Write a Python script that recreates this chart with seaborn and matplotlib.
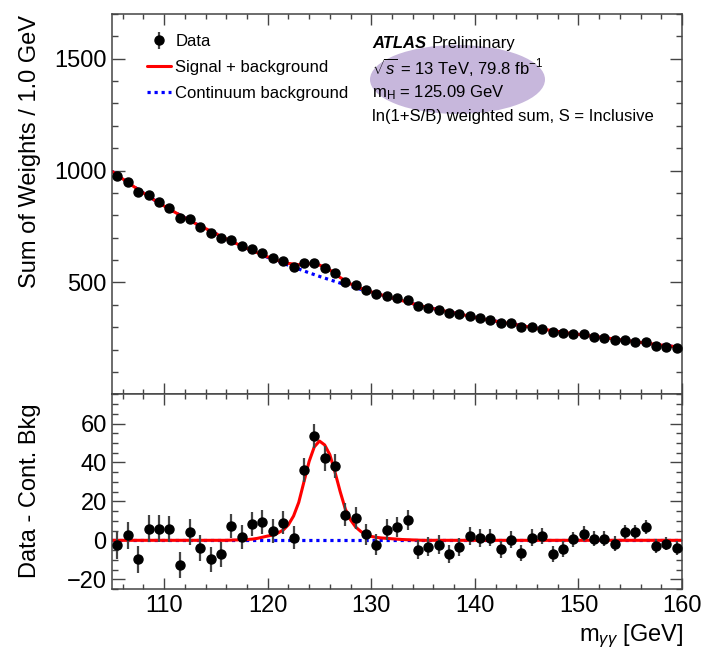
import numpy as np
import matplotlib
matplotlib.use("Agg")
import matplotlib.pyplot as plt
from matplotlib.lines import Line2D
from matplotlib.patches import Ellipse
from matplotlib.ticker import MultipleLocator, FixedLocator
import seaborn as sns

# Data: 1 GeV bins between 105 and 160 GeV
mass = np.arange(105.5, 160.0, 1.0)
data_weights = [977, 950, 906, 891, 861, 834, 789, 782, 747, 720,
                700, 690, 663, 650, 630, 608, 595, 570, 586, 588,
                563, 541, 501, 487, 466, 448, 441, 431, 422, 396,
                384, 377, 362, 358, 351, 340, 332, 317, 317, 300,
                300, 292, 277, 273, 270, 268, 257, 250, 243, 243,
                235, 235, 217, 213, 206]
data_resid = [-2.6, 2.6, -9.8, 6.0, 6.0, 6.0, -12.5, 4.3, -4.0, -9.8,
              -7.2, 7.4, 1.7, 8.6, 9.5, 4.6, 9.1, 1.4, 36.1, 53.6,
              42.1, 38.1, 13.2, 11.5, 3.1, -2.2, 5.5, 6.7, 10.3, -4.8,
              -3.4, -2.2, -6.9, -3.4, 2.2, 1.2, 1.4, -4.6, 0.3, -6.5,
              1.4, 2.4, -7.0, -4.6, 0.5, 3.4, 0.9, 0.9, -1.7, 4.3,
              4.3, 6.9, -2.9, -1.7, -4.0]
data_err = [7.0, 6.9, 6.9, 6.8, 6.8, 6.7, 6.6, 6.6, 6.5, 6.5,
            6.4, 6.3, 6.3, 6.2, 6.2, 6.1, 6.0, 6.0, 6.2, 6.4,
            6.3, 6.2, 5.9, 5.7, 5.5, 5.4, 5.3, 5.2, 5.1, 5.0,
            4.9, 4.8, 4.7, 4.6, 4.6, 4.5, 4.4, 4.4, 4.3, 4.2,
            4.2, 4.1, 4.0, 4.0, 3.9, 3.9, 3.8, 3.8, 3.7, 3.7,
            3.7, 3.6, 3.6, 3.5, 3.5]

# Continuum background fit, read at every GeV
bkg_mass = np.arange(105.0, 160.5, 1.0)
bkg = np.array([996, 963, 931, 900, 870, 842,
                815, 789, 764, 741, 718,
                695, 673, 652, 632, 612,
                594, 577, 560, 543, 527,
                512, 497, 483, 469, 456,
                443, 430, 418, 405, 393,
                383, 373, 364, 354, 344,
                335, 327, 319, 311, 303,
                295, 288, 281, 274, 268,
                262, 256, 250, 244, 238,
                232, 226, 220, 215, 209], dtype=float)

# Signal component of the fit, every 0.5 GeV around the peak
sig_mass = np.arange(117.0, 134.01, 0.5)
sig = np.array([0.2, 0.3, 0.4, 0.6, 1.0, 1.6, 2.2, 2.7, 3.8, 5.3,
                8.0, 12.5, 19.5, 30.0, 40.5, 48.0, 51.0, 49.0, 44.0, 35.0,
                25.0, 16.0, 10.5, 6.8, 4.5, 2.9, 2.0, 1.5, 1.2, 1.0,
                0.8, 0.6, 0.4, 0.3, 0.2])

# S+B on the 1 GeV grid
total = bkg.copy()
i0 = int(np.where(bkg_mass == sig_mass[0])[0][0])
total[i0:i0 + len(sig[::2])] += sig[::2]

# S+B - B on the fine grid
left = bkg_mass < sig_mass[0]
right = bkg_mass > sig_mass[-1]
resid_x = np.concatenate([bkg_mass[left], sig_mass, bkg_mass[right]])
resid_y = np.concatenate([np.zeros(left.sum()), sig, np.zeros(right.sum())])

sns.set_theme(style="ticks")
plt.rcParams["font.family"] = ["Liberation Sans", "DejaVu Sans"]
plt.rcParams["mathtext.fontset"] = "custom"
plt.rcParams["mathtext.rm"] = "Liberation Sans"
plt.rcParams["mathtext.it"] = "Liberation Sans:italic"
plt.rcParams["mathtext.bf"] = "Liberation Sans:bold"
plt.rcParams["text.color"] = "black"
plt.rcParams["xtick.labelcolor"] = "black"
plt.rcParams["ytick.labelcolor"] = "black"

fig = plt.figure(figsize=(7.04, 6.54), dpi=100)
ax1 = fig.add_axes([0.1595, 0.3971, 0.8093, 0.5815])
ax2 = fig.add_axes([0.1595, 0.0994, 0.8093, 0.2977])

blue_ls = (0, (1.0, 1.2))
red_kw = dict(color="#ff0000", linewidth=2.2)
blue_kw = dict(color="#0000ff", linewidth=2.3, linestyle=blue_ls)
err_kw = dict(fmt="o", ms=6.5, color="black", ecolor="#444444",
              elinewidth=1.6, capsize=0, zorder=5)

# top panel
sns.lineplot(x=bkg_mass, y=bkg, ax=ax1, errorbar=None, sort=False, **blue_kw)
sns.lineplot(x=bkg_mass, y=total, ax=ax1, errorbar=None, sort=False, **red_kw)
data_h = ax1.errorbar(mass, data_weights, yerr=data_err, **err_kw)

# bottom panel
sns.lineplot(x=bkg_mass, y=bkg - bkg, ax=ax2, errorbar=None, sort=False, **blue_kw)
sns.lineplot(x=resid_x, y=resid_y, ax=ax2, errorbar=None, sort=False, **red_kw)
ax2.errorbar(mass, data_resid, yerr=data_err, **err_kw)

ax1.set_xlim(105, 160)
ax2.set_xlim(105, 160)
ax1.set_ylim(0, 1700)
ax2.set_ylim(-25, 75)

ax1.yaxis.set_major_locator(FixedLocator([500, 1000, 1500]))
ax1.yaxis.set_minor_locator(MultipleLocator(100))
ax2.yaxis.set_major_locator(MultipleLocator(20))
ax2.yaxis.set_minor_locator(MultipleLocator(5))
for ax in (ax1, ax2):
    ax.xaxis.set_major_locator(MultipleLocator(10))
    ax.xaxis.set_minor_locator(MultipleLocator(2))
    ax.set_xlabel("")
    ax.set_ylabel("")
    for sp in ax.spines.values():
        sp.set_visible(True)
        sp.set_color("#444444")
        sp.set_linewidth(1.1)
    ax.tick_params(which="both", direction="in", top=True, right=True,
                   color="#444444", labelcolor="black", width=1.0,
                   labelsize=17, pad=4)
    ax.tick_params(axis="x", which="major", length=7.6)
    ax.tick_params(axis="x", which="minor", length=3.6)
    ax.tick_params(axis="y", which="major", length=9)
    ax.tick_params(axis="y", which="minor", length=4.5)
ax1.tick_params(axis="x", labelbottom=False)

# legend
handles = [data_h,
           Line2D([], [], **red_kw),
           Line2D([], [], **blue_kw)]
labels = ["Data", "Signal + background", "Continuum background"]
ax1.legend(handles, labels, loc="upper left",
           bbox_to_anchor=(147 / 704, 1 - 34 / 654), bbox_transform=fig.transFigure,
           frameon=False, fontsize=12, borderpad=0, borderaxespad=0,
           handlelength=1.45, handletextpad=0.25, labelspacing=0.66,
           labelcolor="black")

# ATLAS label block
ax1.add_patch(Ellipse((457.5 / 704, 1 - 79.5 / 654), 175 / 704, 69 / 654,
                      transform=fig.transFigure, facecolor="#c7b7dc",
                      edgecolor="none", zorder=1))
fig.text(372 / 704, 1 - 48 / 654, "ATLAS", fontsize=12, fontweight="bold",
         fontstyle="italic", va="baseline")
fig.text(432 / 704, 1 - 48 / 654, "Preliminary", fontsize=12, va="baseline")
fig.text(372 / 704, 1 - 74 / 654, r"$\sqrt{s}$ = 13 TeV, 79.8 fb$^{-1}$",
         fontsize=12, va="baseline")
fig.text(372 / 704, 1 - 97 / 654, r"m$_{\mathrm{H}}$ = 125.09 GeV",
         fontsize=12, va="baseline")
fig.text(372 / 704, 1 - 121 / 654, "ln(1+S/B) weighted sum, S = Inclusive",
         fontsize=12, va="baseline")

# axis titles
fig.text(30 / 704, 1 - 15 / 654, "Sum of Weights / 1.0 GeV", rotation=90,
         ha="center", va="top", fontsize=17)
fig.text(30 / 704, 1 - 491 / 654, "Data - Cont. Bkg", rotation=90,
         ha="center", va="center", fontsize=17)
fig.text(683 / 704, 1 - 636 / 654, r"m$_{\gamma\gamma}$ [GeV]",
         ha="right", va="center", fontsize=17)

fig.savefig("out.png", dpi=100)
